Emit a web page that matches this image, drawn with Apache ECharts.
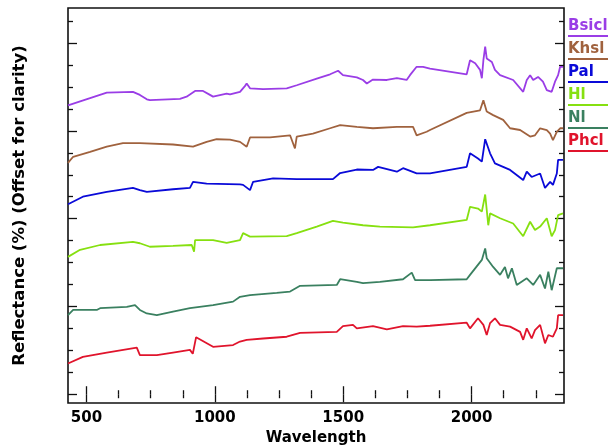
<!DOCTYPE html>
<html>
<head>
<meta charset="utf-8">
<script src="https://cdn.jsdelivr.net/npm/echarts@6/dist/echarts.min.js"></script>
<style>
	html, body { margin: 0; padding: 0; background: #fff; }
	#main { width: 616px; height: 446px; }
</style>
</head>
<body>
<div id="main"></div>
<script>
// wavelength ticks (nm)
var wlMajor = [500, 1000, 1500, 2000];
var wlMinor = [625, 750, 875, 1125, 1250, 1375, 1625, 1750, 1875, 2125, 2250];
// reflectance ticks (offset units)
var reflMajor = [0, 20, 40, 60, 80];
var reflMinor = [5, 10, 15, 25, 30, 35, 45, 50, 55, 65, 70, 75, 85];

var names = ['Bsicl', 'Khsl', 'Pal', 'Hl', 'Nl', 'Phcl'];

// [wavelength, reflectance + offset]
var bsicl = [[428, 65.8], [579, 68.7], [681, 68.9], [708, 68.2], [735, 67.2], [747, 67.0], [864, 67.3], [890, 67.8],
	[923, 69.1], [954, 69.1], [981, 68.2], [993, 67.8], [1046, 68.5], [1059, 68.3], [1098, 68.9], [1117, 70.2],
	[1124, 70.8], [1137, 69.7], [1188, 69.5], [1280, 69.7], [1319, 70.4], [1397, 71.9], [1449, 72.9], [1480, 73.7],
	[1499, 72.7], [1553, 72.2], [1577, 71.6], [1592, 70.8], [1616, 71.7], [1670, 71.6], [1709, 72.0], [1747, 71.6],
	[1760, 72.7], [1786, 74.6], [1811, 74.6], [1838, 74.2], [1981, 72.9], [1994, 76.1], [2014, 75.4], [2033, 73.9],
	[2040, 72.0], [2046, 76.1], [2053, 79.2], [2059, 76.5], [2079, 75.7], [2091, 73.9], [2111, 72.7], [2162, 71.6],
	[2201, 68.9], [2215, 71.6], [2228, 72.7], [2240, 71.6], [2259, 72.3], [2278, 71.2], [2293, 69.3], [2312, 68.9],
	[2325, 71.2], [2337, 72.7], [2345, 74.6], [2356, 74.6]];
var khsl = [[428, 52.7], [448, 54.1], [514, 55.2], [579, 56.4], [642, 57.2], [708, 57.2], [837, 56.9], [915, 56.4],
	[968, 57.5], [1007, 58.1], [1059, 58.0], [1098, 57.5], [1124, 56.4], [1137, 58.5], [1215, 58.5], [1293, 59.0],
	[1312, 56.0], [1319, 58.7], [1382, 59.4], [1449, 60.6], [1488, 61.3], [1553, 60.9], [1616, 60.6], [1709, 60.9],
	[1772, 60.9], [1786, 59.0], [1825, 59.8], [1838, 60.2], [1981, 64.1], [2033, 64.7], [2046, 67.0], [2059, 64.4],
	[2084, 63.6], [2123, 62.5], [2150, 60.6], [2189, 60.2], [2228, 58.7], [2247, 59.0], [2267, 60.6], [2293, 60.2],
	[2306, 59.4], [2317, 57.9], [2332, 59.8], [2345, 60.6], [2356, 60.6]];
var pal = [[428, 43.3], [486, 45.0], [579, 46.1], [681, 47.0], [708, 46.5], [735, 46.1], [837, 46.7], [903, 47.0],
	[915, 48.4], [968, 48.0], [1098, 47.8], [1110, 47.7], [1137, 46.5], [1149, 48.4], [1188, 48.8], [1227, 49.2],
	[1319, 49.0], [1460, 49.0], [1488, 50.4], [1553, 51.2], [1616, 51.1], [1636, 51.8], [1709, 50.7], [1733, 51.5],
	[1786, 50.3], [1838, 50.3], [1981, 51.8], [1994, 54.9], [2025, 53.7], [2040, 53.0], [2053, 58.1], [2072, 54.9],
	[2091, 52.6], [2150, 51.1], [2201, 48.8], [2215, 50.7], [2234, 49.5], [2267, 50.3], [2286, 47.0], [2306, 48.4],
	[2317, 47.7], [2332, 50.3], [2337, 53.4], [2356, 53.4]];
var hl = [[428, 31.3], [475, 32.9], [553, 34.0], [681, 34.7], [708, 34.4], [747, 33.6], [837, 33.8], [910, 34.0],
	[919, 32.5], [923, 35.1], [993, 35.1], [1046, 34.5], [1098, 35.1], [1110, 36.7], [1137, 35.9], [1280, 36.0],
	[1319, 36.7], [1397, 38.2], [1460, 39.5], [1499, 39.1], [1577, 38.5], [1643, 38.2], [1772, 38.0], [1838, 38.5],
	[1981, 39.7], [1994, 42.7], [2025, 42.3], [2040, 41.6], [2053, 45.5], [2065, 38.5], [2072, 41.2], [2111, 40.1],
	[2162, 38.9], [2201, 36.0], [2228, 39.3], [2247, 37.4], [2267, 38.2], [2293, 40.1], [2312, 36.0], [2325, 37.4],
	[2337, 40.8], [2356, 41.2]];
var nl = [[428, 18.0], [448, 19.2], [540, 19.2], [553, 19.6], [657, 19.9], [689, 20.3], [708, 19.2], [735, 18.4],
	[774, 18.0], [837, 18.8], [903, 19.6], [993, 20.3], [1071, 21.1], [1098, 22.2], [1137, 22.6], [1241, 23.1],
	[1293, 23.4], [1332, 24.7], [1475, 24.9], [1488, 26.2], [1553, 25.6], [1577, 25.3], [1643, 25.6], [1733, 26.2],
	[1767, 27.7], [1780, 26.0], [1838, 26.0], [1981, 26.2], [1994, 27.2], [2040, 30.6], [2053, 33.2], [2059, 31.0],
	[2084, 29.0], [2111, 27.2], [2130, 29.0], [2142, 26.4], [2157, 28.7], [2176, 24.9], [2215, 26.4], [2240, 24.9],
	[2267, 27.2], [2286, 24.1], [2299, 27.9], [2312, 23.7], [2332, 28.7], [2356, 28.7]];
var phcl = [[428, 7.0], [486, 8.5], [579, 9.5], [696, 10.6], [708, 8.9], [774, 8.9], [837, 9.5], [903, 10.1],
	[914, 9.2], [927, 13.0], [993, 10.8], [1071, 11.2], [1098, 12.0], [1124, 12.4], [1188, 12.7], [1280, 13.1],
	[1332, 14.0], [1475, 14.2], [1499, 15.5], [1538, 15.8], [1553, 15.0], [1616, 15.5], [1670, 14.8], [1733, 15.5],
	[1786, 15.4], [1838, 15.6], [1981, 16.3], [1994, 15.0], [2025, 17.3], [2046, 15.8], [2059, 13.5], [2072, 16.2],
	[2091, 17.3], [2111, 15.8], [2150, 15.4], [2189, 14.2], [2201, 12.4], [2215, 15.0], [2234, 12.7], [2247, 14.6],
	[2267, 15.8], [2286, 11.6], [2299, 13.5], [2317, 13.1], [2332, 15.0], [2337, 18.0], [2356, 18.0]];

var seriesData = [bsicl, khsl, pal, hl, nl, phcl];
var colors = ['#9a3de6', '#a0623e', '#0a0ad8', '#86e010', '#3a8060', '#e0142c'];

var FONT = 'DejaVu Sans';
var xMin = 428, xMax = 2360, yMin = -2, yMax = 88;

function xAx(pos, ticks, len, labels) {
	return {
		type: 'value', position: pos, min: xMin, max: xMax,
		name: labels ? 'Wavelength' : '', nameLocation: 'middle', nameGap: 28,
		nameTextStyle: { color: '#000', fontFamily: FONT, fontWeight: 'bold', fontSize: 15 },
		axisLine: { show: false },
		axisTick: { show: true, inside: true, length: len, customValues: ticks, lineStyle: { color: '#111', width: 1.3 } },
		axisLabel: labels ? {
			show: true, customValues: ticks, margin: 8, color: '#000', fontFamily: FONT, fontWeight: 'bold', fontSize: 15,
			formatter: function(v) { return String(v); }
		} : { show: false },
		splitLine: { show: false }
	};
}

function yAx(pos, ticks, len, title) {
	return {
		type: 'value', position: pos, min: yMin, max: yMax,
		name: title ? 'Reflectance (%) (Offset for clarity)' : '', nameLocation: 'middle', nameGap: 40,
		nameTextStyle: { color: '#000', fontFamily: FONT, fontWeight: 'bold', fontSize: 16.5 },
		axisLine: { show: false },
		axisTick: { show: true, inside: true, length: len, customValues: ticks, lineStyle: { color: '#111', width: 1.3 } },
		axisLabel: { show: false },
		splitLine: { show: false }
	};
}

var rich = {};
for (var i = 0; i < names.length; i++) {
	rich['t' + i] = { color: colors[i], fontFamily: FONT, fontWeight: 'bold', fontSize: 15, lineHeight: 15 };
	rich['u' + i] = { backgroundColor: colors[i], width: 40, height: 2, fontSize: 2, lineHeight: 4 };
}

var myChart = echarts.init(document.getElementById('main'));
var option = {
	animation: false,
	backgroundColor: '#fff',
	grid: {
		left: 68, right: 52, top: 8, bottom: 43, outerBoundsMode: 'none',
		show: true, borderColor: '#111', borderWidth: 1.6, backgroundColor: 'transparent'
	},
	legend: {
		orient: 'vertical', left: 558, top: 14, itemGap: 5,
		icon: 'none', itemWidth: 0, itemHeight: 0,
		data: names,
		formatter: function(name) {
			var k = names.indexOf(name);
			return '{t' + k + '|' + name + '}\n{u' + k + '|}';
		},
		textStyle: { rich: rich }
	},
	xAxis: [xAx('bottom', wlMajor, 8, true), xAx('bottom', wlMinor, 4, false), xAx('top', wlMajor, 8, false), xAx('top', wlMinor, 4, false)],
	yAxis: [yAx('left', reflMajor, 9, true), yAx('left', reflMinor, 5, false), yAx('right', reflMajor, 9, false), yAx('right', reflMinor, 5, false)],
	series: []
};
for (var s = 0; s < names.length; s++) {
	option.series.push({
		name: names[s], type: 'line', xAxisIndex: 0, yAxisIndex: 0,
		symbol: 'none', color: colors[s],
		lineStyle: { width: 1.8, color: colors[s] },
		data: seriesData[s]
	});
}
myChart.setOption(option);
</script>
</body>
</html>
